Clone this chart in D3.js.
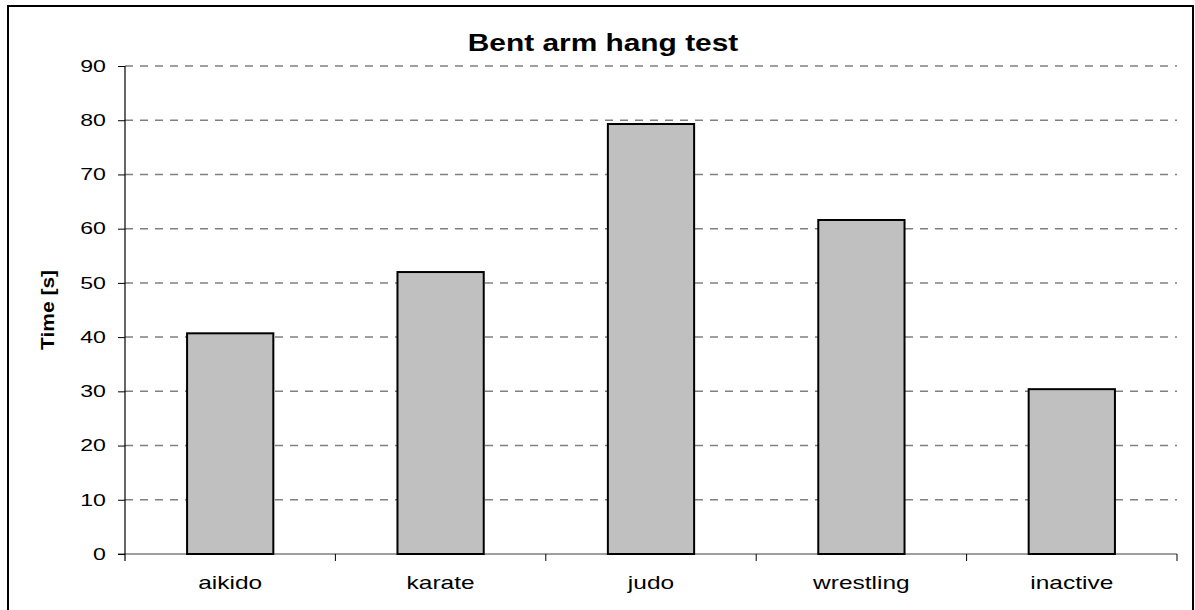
<!DOCTYPE html>
<html>
<head>
<meta charset="utf-8">
<script src="https://cdn.jsdelivr.net/npm/d3@7"></script>
<style>
  body { margin: 0; background: #fff; }
  svg text { font-family: "Liberation Sans", Arial, sans-serif; }
</style>
</head>
<body>
<script>
// chart data
var categories = ["aikido", "karate", "judo", "wrestling", "inactive"];
var times = [40.7, 52.0, 79.3, 61.6, 30.4];
var yTicks = [0, 10, 20, 30, 40, 50, 60, 70, 80, 90];

var width = 1195,
    height = 610;

//text in the original is drawn wider than normal
var stretch = 1.4;

var svg = d3.select("body")
    .append("svg")
    .attr("width", width)
    .attr("height", height);

//outer frame
svg.append("rect")
    .attr("x", 8)
    .attr("y", 6)
    .attr("width", 1185)
    .attr("height", 620)
    .attr("fill", "none")
    .attr("stroke", "#000")
    .attr("stroke-width", 2);

var plotLeft = 125, plotRight = 1177, plotTop = 66, plotBottom = 554;

var x = d3.scaleBand()
    .domain(categories)
    .range([plotLeft, plotRight])
    .paddingInner(0.59)
    .paddingOuter(0.295);

var y = d3.scaleLinear()
    .domain([0, 90])
    .range([plotBottom, plotTop]);

//dashed gridlines
svg.selectAll(".grid")
    .data(yTicks.filter(function (d) { return d > 0; }))
    .enter()
    .append("line")
    .attr("class", "grid")
    .attr("x1", plotLeft)
    .attr("x2", plotRight)
    .attr("y1", function (d) { return y(d); })
    .attr("y2", function (d) { return y(d); })
    .attr("stroke", "#808080")
    .attr("stroke-width", 1.5)
    .attr("stroke-dasharray", "8,7");

//x axis line (grey)
svg.append("line")
    .attr("x1", plotLeft - 7)
    .attr("x2", plotRight)
    .attr("y1", plotBottom)
    .attr("y2", plotBottom)
    .attr("stroke", "#808080")
    .attr("stroke-width", 1.5);

//bars
svg.selectAll(".bar")
    .data(times)
    .enter()
    .append("rect")
    .attr("class", "bar")
    .attr("x", function (d, i) { return x(categories[i]); })
    .attr("y", function (d) { return y(d); })
    .attr("width", x.bandwidth())
    .attr("height", function (d) { return plotBottom - y(d); })
    .attr("fill", "#c0c0c0")
    .attr("stroke", "#000")
    .attr("stroke-width", 2);

//y axis
var yAxis = svg.append("g")
    .attr("transform", "translate(" + plotLeft + ",0)")
    .call(d3.axisLeft(y).tickValues(yTicks).tickSize(7).tickPadding(6.6).tickSizeOuter(0));
yAxis.select(".domain").attr("stroke", "#000").attr("stroke-width", 1.2)
    .attr("d", "M0," + plotTop + "V" + (plotBottom + 7));
yAxis.selectAll(".tick line").attr("stroke", "#000");
yAxis.selectAll("text")
    .attr("font-size", 16.5)
    .attr("fill", "#000")
    .attr("font-family", "Liberation Sans, Arial, sans-serif")
    .attr("transform", "scale(" + stretch + ",1)");

//x boundary ticks
var bounds = d3.range(1, categories.length + 1).map(function (i) {
    return plotLeft + i * (plotRight - plotLeft) / categories.length;
});
svg.selectAll(".xtick")
    .data(bounds)
    .enter()
    .append("line")
    .attr("class", "xtick")
    .attr("x1", function (d) { return d; })
    .attr("x2", function (d) { return d; })
    .attr("y1", plotBottom)
    .attr("y2", plotBottom + 7)
    .attr("stroke", "#000")
    .attr("stroke-width", 1);

svg.selectAll(".xlabel")
    .data(categories)
    .enter()
    .append("text")
    .attr("class", "xlabel")
    .attr("transform", function (d) {
        return "translate(" + (x(d) + x.bandwidth() / 2) + ",589) scale(" + stretch + ",1)";
    })
    .attr("text-anchor", "middle")
    .attr("font-size", 17.5)
    .text(function (d) { return d; });

//titles
svg.append("text")
    .attr("transform", "translate(603,51) scale(1.3,1)")
    .attr("text-anchor", "middle")
    .attr("font-size", 23)
    .attr("font-weight", "bold")
    .text("Bent arm hang test");

svg.append("text")
    .attr("transform", "translate(54,310) rotate(-90) scale(1.2,1)")
    .attr("text-anchor", "middle")
    .attr("font-size", 17.5)
    .attr("font-weight", "bold")
    .text("Time [s]");
</script>
</body>
</html>
